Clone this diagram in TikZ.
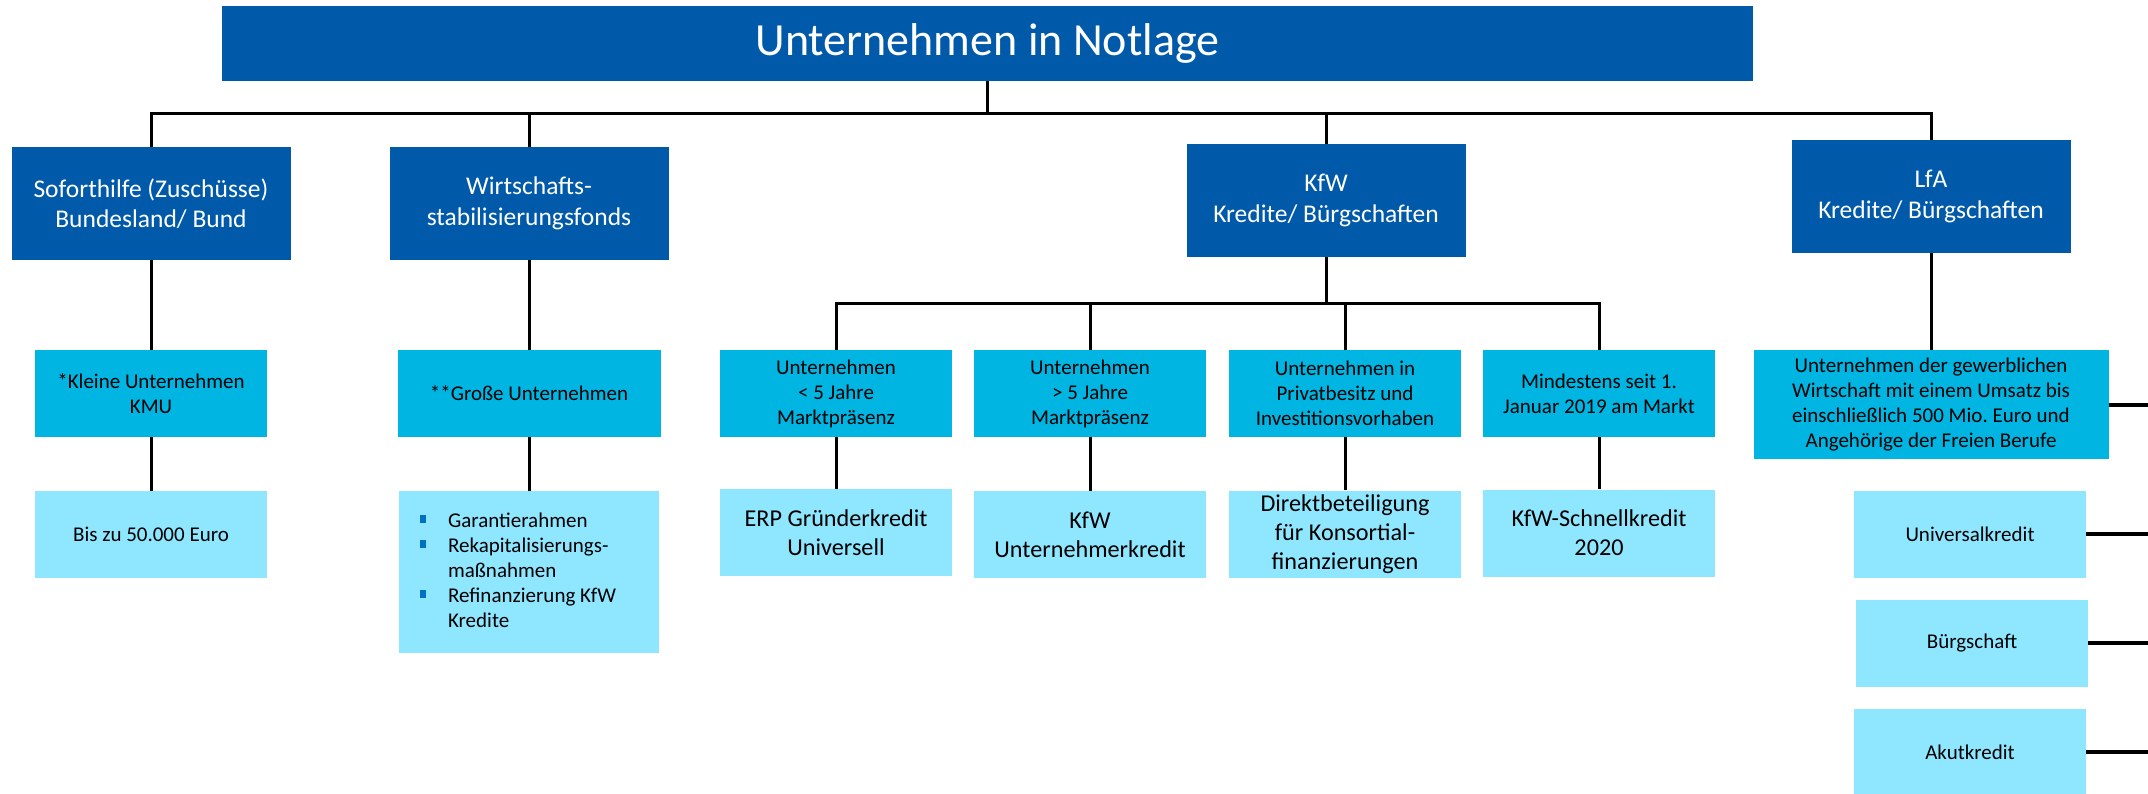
\documentclass[tikz,border=0pt]{standalone}
\usepackage{fontspec}
\setmainfont{Carlito}
\usepackage{tikz}
\frenchspacing

\definecolor{darkblue}{RGB}{0,90,169}
\definecolor{midblue}{RGB}{0,181,226}
\definecolor{lightblue}{RGB}{142,231,255}
\definecolor{dotblue}{RGB}{0,112,192}

\newcommand{\listmark}{\textcolor{dotblue}{\rule[4pt]{6pt}{8pt}}}

\tikzset{
  titlebox/.style={fill=darkblue, text=white, inner sep=0pt, minimum width=1531pt, minimum height=75pt, font=\fontsize{46}{55}\selectfont},
  headbox/.style={fill=darkblue, text=white, inner sep=0pt, align=center, minimum width=279pt, minimum height=113pt, font=\fontsize{25.5}{30.5}\selectfont},
  subbox/.style={fill=midblue, text=black, inner sep=0pt, align=center, minimum width=232pt, minimum height=87pt, font=\fontsize{21}{25}\selectfont},
  leafbox/.style={fill=lightblue, text=black, inner sep=0pt, align=center, minimum width=232pt, minimum height=87pt, font=\fontsize{21}{25}\selectfont},
  bigtext/.style={font=\fontsize{24.2}{29}\selectfont},
  link/.style={line width=3pt},
  sidelink/.style={line width=4pt}
}

\begin{document}
\begin{tikzpicture}[x=1pt,y=-1pt]

  \useasboundingbox (0,0) rectangle (2148,793);

  \node[titlebox] (title) at (987.5,43.5) {Unternehmen in Notlage};

  \node[headbox] (sofort) at (151,203.5) {Soforthilfe (Zuschüsse)\\Bundesland/ Bund};
  \node[headbox] (wsf) at (529,203.5) {Wirtschafts-\\stabilisierungsfonds};
  \node[headbox] (kfw) at (1326,200.5) {KfW\\Kredite/ Bürgschaften};
  \node[headbox] (lfa) at (1931,196.5) {LfA\\Kredite/ Bürgschaften};

  \node[subbox] (klein) at (151,393.5) {*Kleine Unternehmen\\KMU};
  \node[subbox, minimum width=263pt] (gross) at (529,393.5) {**Große Unternehmen};
  \node[subbox] (jung) at (836,393.5) {Unternehmen\\< 5 Jahre\\Marktpräsenz};
  \node[subbox] (alt) at (1090,393.5) {Unternehmen\\> 5 Jahre\\Marktpräsenz};
  \node[subbox] (privat) at (1345,393.5) {Unternehmen in\\Privatbesitz und\\Investitionsvorhaben};
  \node[subbox] (markt) at (1599,393.5) {Mindestens seit 1.\\Januar 2019 am Markt};
  \node[subbox, minimum width=355pt, minimum height=109pt] (gewerbe) at (1931,404.5) {Unternehmen der gewerblichen\\Wirtschaft mit einem Umsatz bis\\einschließlich 500 Mio. Euro und\\Angehörige der Freien Berufe};

  \node[leafbox] (zuschuss) at (151,534.5) {Bis zu 50.000 Euro};
  \node[leafbox, minimum width=260pt, minimum height=162pt] (wsfhilfe) at (529,572) {%
    \begin{tabular}{@{}l@{\hspace{22pt}}l@{\hspace{22pt}}}
      \listmark & Garantierahmen\\
      \listmark & Rekapitalisierungs-\\
                & maßnahmen\\
      \listmark & Refinanzierung KfW\\
                & Kredite
    \end{tabular}};
  \node[leafbox, bigtext] (erp) at (836,532.5) {ERP Gründerkredit\\Universell};
  \node[leafbox, bigtext] (ukredit) at (1090,534.5) {KfW\\Unternehmerkredit};
  \node[leafbox, bigtext] (direkt) at (1345,534) {Direktbeteiligung\\für Konsortial-\\finanzierungen};
  \node[leafbox, bigtext] (schnell) at (1599,533) {KfW-Schnellkredit\\2020};
  \node[leafbox] (universal) at (1970,534) {Universalkredit};
  \node[leafbox] (buerg) at (1972,643) {Bürgschaft};
  \node[leafbox] (akut) at (1970,752) {Akutkredit};

  \coordinate (bus) at (title.south |- 0,113);
  \draw[link] (title) -- (bus);
  \draw[link] (sofort.north) |- (bus) -| (lfa.north);
  \draw[link] (bus -| wsf.north) -- (wsf.north);
  \draw[link] (bus -| kfw.north) -- (kfw.north);

  \foreach \a/\b in {sofort/klein, klein/zuschuss, wsf/gross, gross/wsfhilfe, lfa/gewerbe, jung/erp, alt/ukredit, privat/direkt, markt/schnell}
    \draw[link] (\a) -- (\b);

  \coordinate (kbus) at (kfw.south |- 0,303);
  \draw[link] (kfw) -- (kbus);
  \draw[link] (jung.north) |- (kbus) -| (markt.north);
  \draw[link] (kbus -| alt.north) -- (alt.north);
  \draw[link] (kbus -| privat.north) -- (privat.north);

  \coordinate (rim) at (2152,0);
  \foreach \n in {gewerbe, universal, buerg, akut}
    \draw[sidelink] (\n.east) -- (\n.east -| rim);

\end{tikzpicture}
\end{document}
